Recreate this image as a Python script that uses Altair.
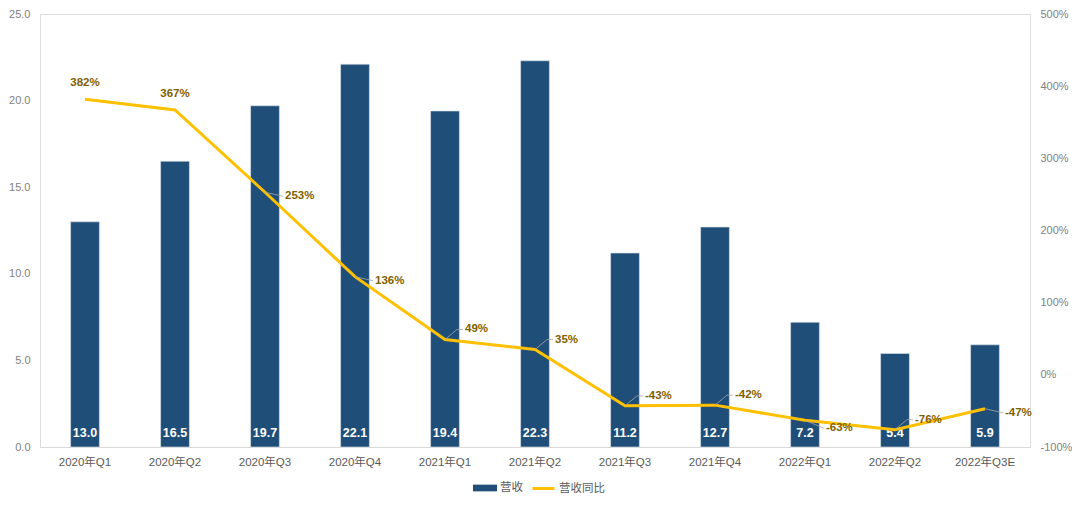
import altair as alt
import pandas as pd

quarters = ["2020年Q1", "2020年Q2", "2020年Q3", "2020年Q4", "2021年Q1", "2021年Q2",
            "2021年Q3", "2021年Q4", "2022年Q1", "2022年Q2", "2022年Q3E"]
revenue = [13.0, 16.5, 19.7, 22.1, 19.4, 22.3, 11.2, 12.7, 7.2, 5.4, 5.9]
yoy = [382, 367, 253, 136, 49, 35, -43, -42, -63, -76, -47]

df = pd.DataFrame({"q": quarters, "rev": revenue, "yoy": yoy})

FONT = "Liberation Sans, Noto Sans CJK SC"
BAR = "#1F4E79"
LINE = "#FFC000"
LBL = "#7F6000"
LEAD = "#A6A6A6"

x = alt.X("q:N", sort=quarters, title=None,
          scale=alt.Scale(paddingInner=0.68, paddingOuter=0.34),
          axis=alt.Axis(labelAngle=0, ticks=False, domainColor="#D9D9D9", labelColor="#595959",
                        labelFontSize=11.5, labelPadding=9, grid=False))

base = alt.Chart(df)

bars = base.mark_bar(color=BAR, stroke="#DDE3EA", strokeWidth=0.6).encode(
    x=x,
    y=alt.Y("rev:Q", title=None,
            scale=alt.Scale(domain=[0, 25], nice=False),
            axis=alt.Axis(values=[0, 5, 10, 15, 20, 25], format=".1f", ticks=False, domain=False,
                          grid=False, labelColor="#7F7F7F", labelFontSize=11, labelPadding=10)),
    color=alt.Color("s:N", scale=alt.Scale(domain=["营收"], range=[BAR]),
                    legend=alt.Legend(title=None, orient="none", legendX=437, legendY=466,
                                      symbolType="M-1.5,-0.42L1.5,-0.42L1.5,0.42L-1.5,0.42Z",
                                      symbolSize=256, symbolStrokeWidth=0, labelOffset=7,
                                      labelFontSize=11.5, labelColor="#595959")),
).transform_calculate(s="'营收'")

bar_text = base.mark_text(color="white", fontWeight="bold", fontSize=12.5, dy=-14).encode(
    x=alt.X("q:N", sort=quarters),
    y=alt.Y(datum=0),
    text=alt.Text("rev:Q", format=".1f"),
)

left = alt.layer(bars, bar_text)

yr = alt.Y("yoy:Q", title=None,
           scale=alt.Scale(domain=[-100, 500], nice=False),
           axis=alt.Axis(values=[-100, 0, 100, 200, 300, 400, 500], labelExpr="datum.value + '%'",
                         ticks=False, domain=False, grid=False, labelColor="#7F7F7F",
                         labelFontSize=11, labelPadding=10))

line = base.mark_line(strokeWidth=3).encode(
    x=alt.X("q:N", sort=quarters),
    y=yr,
    color=alt.Color("s:N", scale=alt.Scale(domain=["营收同比"], range=[LINE]),
                    legend=alt.Legend(title=None, orient="none", legendX=491, legendY=462,
                                      symbolType="stroke", symbolStrokeWidth=3, symbolSize=480,
                                      labelOffset=3, labelFontSize=11.5, labelColor="#595959")),
).transform_calculate(s="'营收同比'")


def subset(qs):
    return base.transform_filter(alt.FieldOneOfPredicate(field="q", oneOf=qs))


def labels(qs, **kw):
    return subset(qs).transform_calculate(t="datum.yoy + '%'").mark_text(
        color=LBL, fontWeight="bold", fontSize=11.5, **kw).encode(
        x=alt.X("q:N", sort=quarters),
        y=alt.Y("yoy:Q"),
        text="t:N",
    )


def leader(qs, x0, y0, x1, y1):
    return subset(qs).mark_rule(color=LEAD, strokeWidth=0.8, xOffset=x0, yOffset=y0,
                                x2Offset=x1, y2Offset=y1).encode(
        x=alt.X("q:N", sort=quarters), x2="q:N",
        y=alt.Y("yoy:Q"), y2="yoy:Q",
    )


g_above = ["2020年Q1", "2020年Q2"]
g_right = ["2020年Q3", "2020年Q4", "2022年Q3E"]
g_up = ["2021年Q1", "2021年Q2", "2021年Q3", "2021年Q4", "2022年Q2"]
g_down = ["2022年Q1"]

layers = [
    line,
    leader(g_right, 0, 0, 18, 4),
    leader(g_up, 0, 0, 12, -10),
    leader(g_up, 12, -10, 18, -10),
    leader(g_down, 0, 0, 19, 8),
    labels(g_above, align="center", dy=-16),
    labels(g_right, align="left", dx=20, dy=4),
    labels(g_up, align="left", dx=20, dy=-10),
    labels(g_down, align="left", dx=21, dy=8),
]

right = alt.layer(*layers)

chart = alt.layer(left, right).resolve_scale(y="independent", color="independent").properties(
    width=990, height=433, padding={"top": 0, "left": 0, "right": 0, "bottom": 0}
).configure_view(stroke=None).configure(font=FONT)

chart.save("out.html", embed_options={"renderer": "svg", "actions": False})
